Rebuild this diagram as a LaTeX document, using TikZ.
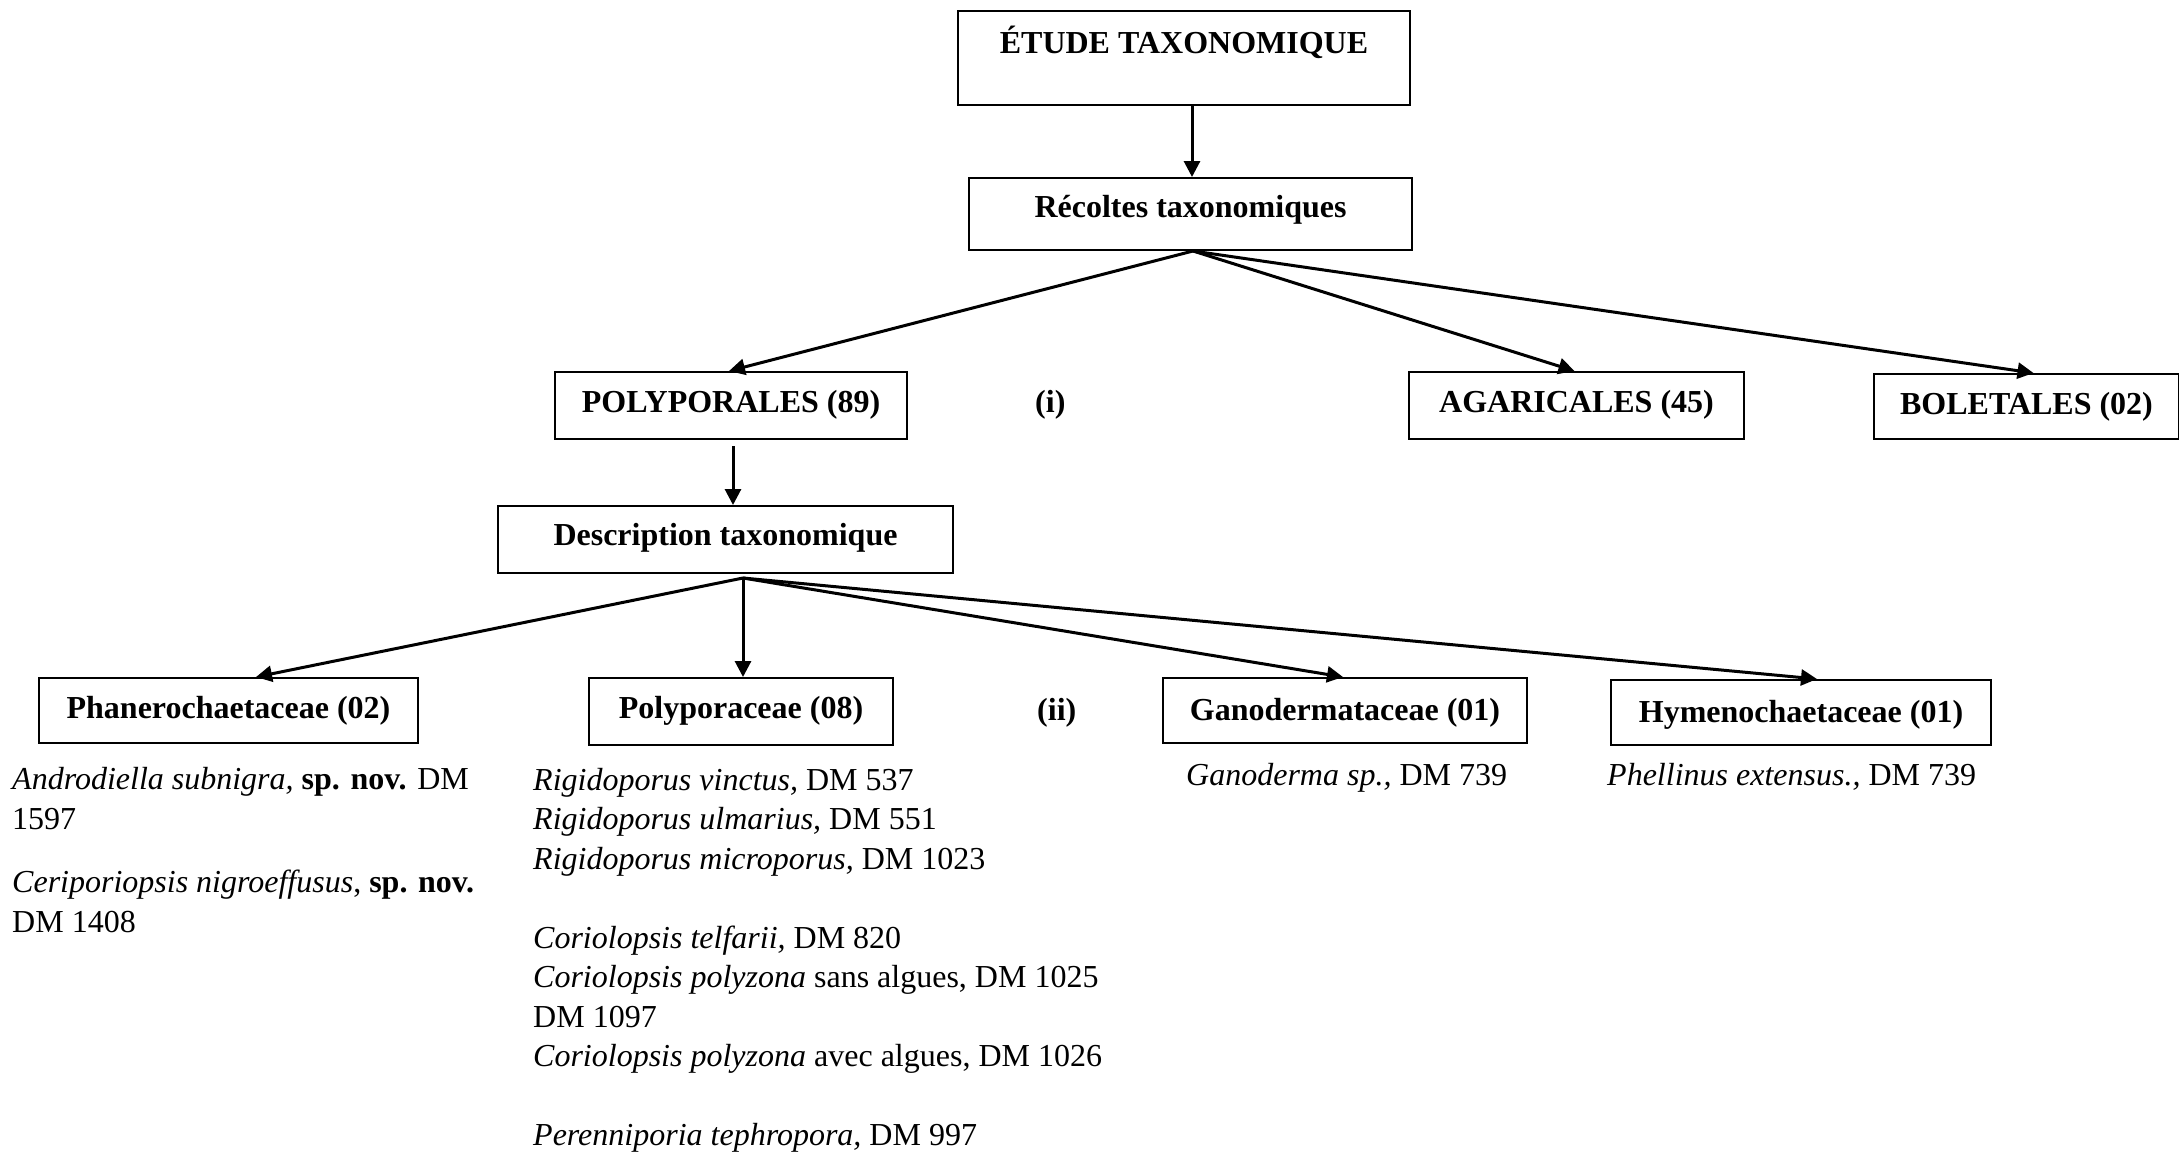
\documentclass[tikz,border=0pt]{standalone}
\usepackage{fontspec}
\setmainfont{Liberation Serif}
\usetikzlibrary{arrows.meta}
\tikzset{
  box/.style={draw, line width=2pt, anchor=north west, inner xsep=0pt, inner ysep=0pt,
    font=\bfseries\fontsize{32}{38}\selectfont},
  arr/.style={line width=3pt, -{Triangle[length=16pt,width=16pt]}},
  sp/.style={anchor=base west, inner sep=0pt, font=\fontsize{32}{39.5}\selectfont},
  lab/.style={anchor=base west, inner sep=0pt, font=\bfseries\fontsize{32}{38}\selectfont}
}
\begin{document}
\begin{tikzpicture}[x=1pt,y=-1pt]
\useasboundingbox (0,0) rectangle (2179,1157);
\fill[white] (0,0) rectangle (2179,1157);
% boxes
\node[box, minimum width=452pt, text height=42pt, text depth=52pt] (etude) at (957,10) {ÉTUDE TAXONOMIQUE};
\node[box, minimum width=443pt, text height=39pt, text depth=33pt] (rec) at (968,177) {Récoltes taxonomiques};
\node[box, minimum width=352pt, text height=40pt, text depth=27pt] (pol) at (554,371) {POLYPORALES (89)};
\node[box, minimum width=335pt, text height=40pt, text depth=27pt] (aga) at (1408,371) {AGARICALES (45)};
\node[box, minimum width=305pt, text height=40pt, text depth=25pt] (bol) at (1873,373) {BOLETALES (02)};
\node[box, minimum width=455pt, text height=39pt, text depth=28pt] (desc) at (497,505) {Description taxonomique};
\node[box, minimum width=379pt, text height=40pt, text depth=25pt] (pha) at (38,677) {Phanerochaetaceae (02)};
\node[box, minimum width=304pt, text height=40pt, text depth=27pt] (polc) at (588,677) {Polyporaceae (08)};
\node[box, minimum width=364pt, text height=42pt, text depth=23pt] (gan) at (1162,677) {Ganodermataceae (01)};
\node[box, minimum width=380pt, text height=42pt, text depth=23pt] (hym) at (1610,679) {Hymenochaetaceae (01)};
% labels
\node[lab] (li) at (1035,412) {(i)};
\node[lab] (lii) at (1037,720) {(ii)};
% connectors
\coordinate (f1) at (1193,251);
\coordinate (f2) at (743,578);
\draw[arr] ([xshift=8pt]etude.south) -- ([xshift=1.5pt]rec.north);
\draw[arr] (f1) -- ([xshift=-2pt]pol.north);
\draw[arr] (f1) -- ([xshift=-2pt]aga.north);
\draw[arr] (f1) -- ([xshift=7pt]bol.north);
\draw[arr] ([xshift=2pt,yshift=-6pt]pol.south) -- ([xshift=7.5pt]desc.north);
\draw[arr] (f2) -- ([xshift=27.5pt]pha.north);
\draw[arr] (f2) -- ([xshift=2pt]polc.north);
\draw[arr] (f2) -- ([xshift=-2pt]gan.north);
\draw[arr] (f2) -- ([xshift=16pt]hym.north);
% species lists
\node[sp] (a1) at (12,789) {\textit{Androdiella subnigra,} \textbf{sp. nov.} DM};
\node[sp] (a2) at (12,829) {1597};
\node[sp] (a3) at (12,892) {\textit{Ceriporiopsis nigroeffusus}, \textbf{sp. nov.}};
\node[sp] (a4) at (12,932) {DM 1408};
\node[sp] (b1) at (533,790) {\textit{Rigidoporus vinctus,} DM 537};
\node[sp] (b2) at (533,829.5) {\textit{Rigidoporus ulmarius,} DM 551};
\node[sp] (b3) at (533,869) {\textit{Rigidoporus microporus,} DM 1023};
\node[sp] (b4) at (533,948) {\textit{Coriolopsis telfarii,} DM 820};
\node[sp] (b5) at (533,987.5) {\textit{Coriolopsis polyzona} sans algues, DM 1025};
\node[sp] (b6) at (533,1027) {DM 1097};
\node[sp] (b7) at (533,1066.5) {\textit{Coriolopsis polyzona} avec algues, DM 1026};
\node[sp] (b8) at (533,1145.5) {\textit{Perenniporia tephropora,} DM 997};
\node[sp] (c1) at (1186,785) {\textit{Ganoderma sp.,} DM 739};
\node[sp] (d1) at (1607,785) {\textit{Phellinus extensus.,} DM 739};
\end{tikzpicture}
\end{document}
